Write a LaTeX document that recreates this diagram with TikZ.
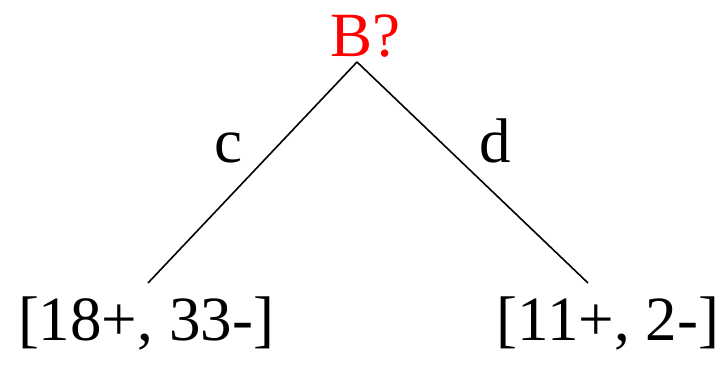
\documentclass[tikz,border=0pt]{standalone}
\usepackage{fontspec}
\setmainfont{Liberation Serif}
\usetikzlibrary{positioning}

\begin{document}
\begin{tikzpicture}[x=1pt, y=1pt,
    lbl/.style={inner sep=0pt, anchor=base, font=\fontsize{63}{70}\selectfont},
    edge/.style={line width=1.6pt}
]
\useasboundingbox (0,0) rectangle (724,369);
\node[lbl, text=red] (root) at (365,312) {B?};
\node[lbl] (left) at (146,28) {[18+, 33-]};
\node[lbl] (right) at (608,28) {[11+, 2-]};
\coordinate (apex) at (357,307);
\coordinate (lend) at (148,86);
\coordinate (rend) at (588,86);

\draw[edge] (apex) -- node[lbl, pos=0.5, xshift=-24pt, yshift=10pt] (c) {c} (lend);
\draw[edge] (apex) -- node[lbl, pos=0.5, xshift=23pt, yshift=10pt] (d) {d} (rend);
\end{tikzpicture}
\end{document}
